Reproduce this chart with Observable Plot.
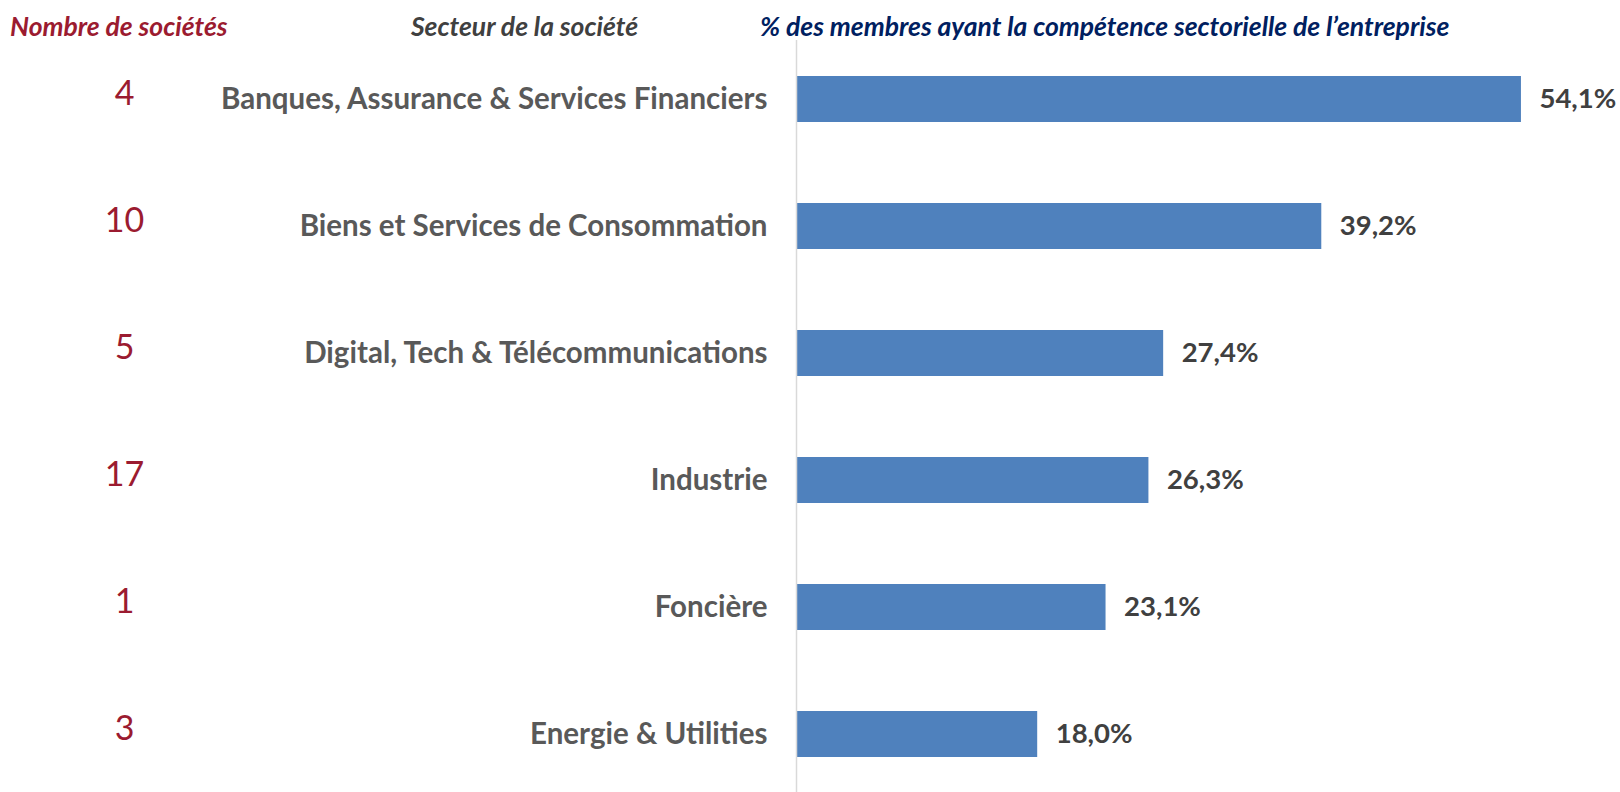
<!DOCTYPE html>
<html>
<head>
<meta charset="utf-8">
<script src="https://cdn.jsdelivr.net/npm/d3@7"></script>
<script src="https://cdn.jsdelivr.net/npm/@observablehq/plot@0.6"></script>
<style>
  html, body { margin: 0; padding: 0; background: #fff; overflow: hidden; }
  #wrap { position: relative; width: 1620px; height: 792px; }
  .hdr { position: absolute; top: 6px; font-family: Lato, "Open Sans", sans-serif; font-weight: bold; font-style: italic; font-size: 26.5px; white-space: nowrap; line-height: 40px; }
  #chart { position: absolute; left: 0; top: 0; }
</style>
</head>
<body>
<div id="wrap">
  <div id="chart"></div>
  <div class="hdr" style="left:10px; color:#9b1b30;">Nombre de sociétés</div>
  <div class="hdr" style="left:411px; color:#404040;">Secteur de la société</div>
  <div class="hdr" style="left:760px; color:#002060;">% des membres ayant la compétence sectorielle de l’entreprise</div>
</div>
<script>
const sectors = [
  "Banques, Assurance & Services Financiers",
  "Biens et Services de Consommation",
  "Digital, Tech & Télécommunications",
  "Industrie",
  "Foncière",
  "Energie & Utilities"
];
const shares = [54.1, 39.2, 27.4, 26.3, 23.1, 18.0];
const companyCounts = [4, 10, 5, 17, 1, 3];

const data = sectors.map((s, i) => ({sector: s, share: shares[i], count: companyCounts[i]}));
const fmt = v => v.toFixed(1).replace(".", ",") + "%";
const font = "Lato, 'Open Sans', sans-serif";

const chart = Plot.plot({
  width: 1620,
  height: 792,
  marginLeft: 796,
  marginRight: 20,
  marginTop: 40,
  marginBottom: 0,
  style: {fontFamily: font, background: "#fff"},
  x: {domain: [0, 60], axis: null},
  y: {domain: sectors, paddingInner: 0.64, paddingOuter: 0.28, axis: null},
  marks: [
    Plot.barX(data, {x: "share", y: "sector", fill: "#4f81bd"}),
    Plot.ruleX([0], {stroke: "#d9d9d9", strokeWidth: 1.5}),
    Plot.text(data, {x: 0, y: "sector", text: "sector", textAnchor: "end", dx: -29,
      fontSize: 29.5, fontWeight: "bold", fill: "#595959"}),
    Plot.text(data, {x: "share", y: "sector", text: d => fmt(d.share), textAnchor: "start", dx: 18,
      fontSize: 27.5, fontWeight: "bold", fill: "#404040"}),
    Plot.text(data, {x: 0, y: "sector", text: d => String(d.count), textAnchor: "middle", dx: -672, dy: -5,
      fontSize: 34, fill: "#9b1b30"})
  ]
});
document.getElementById("chart").appendChild(chart);
</script>
</body>
</html>
